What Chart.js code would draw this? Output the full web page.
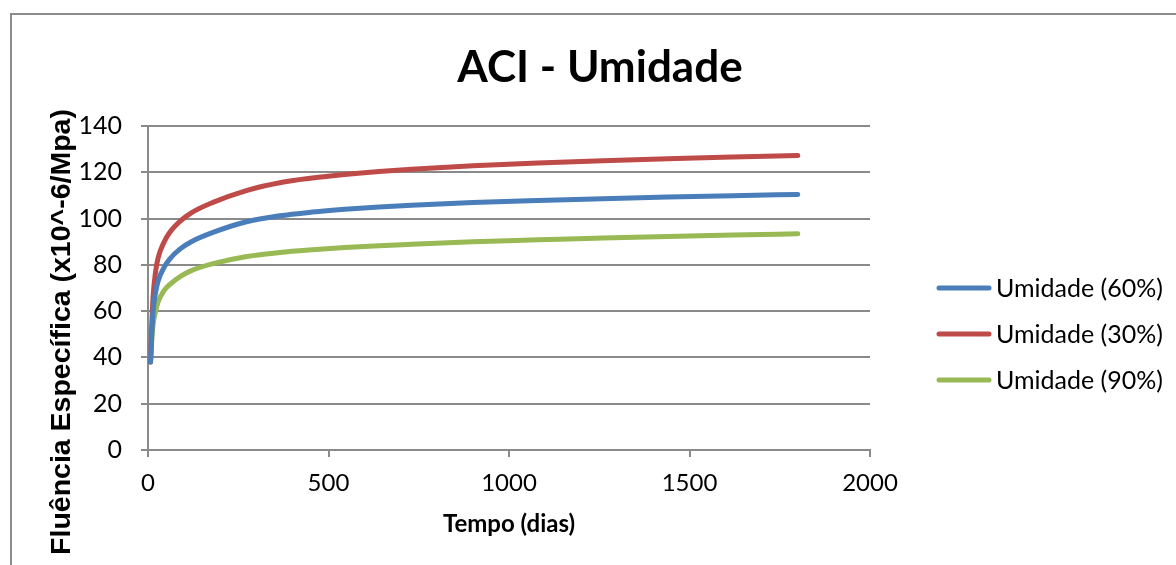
<!DOCTYPE html>
<html>
<head>
<meta charset="utf-8">
<script src="https://cdn.jsdelivr.net/npm/chart.js@4.4.1/dist/chart.umd.min.js"></script>
<style>
  html, body { margin: 0; padding: 0; background: #fff; }
  #chart { display: block; }
</style>
</head>
<body>
<canvas id="chart" width="1176" height="565"></canvas>
<script>
// tempo (dias) e fluência específica (x10^-6/MPa) para cada umidade
const tDias = [7, 10, 14, 21, 28, 45, 60, 90, 120, 180, 270, 365, 455, 545, 640, 730, 900, 1080, 1260, 1440, 1620, 1800];
const umidade60 = [38, 49, 60, 68, 73, 79, 82.5, 87, 90, 94, 98.5, 101.2, 102.8, 104, 105, 105.8, 106.9, 107.8, 108.6, 109.3, 109.9, 110.4];
const umidade30 = [38, 52, 66, 77, 83, 90, 94, 99, 102.5, 107, 112, 115.5, 117.5, 119, 120.3, 121.3, 122.8, 124, 125, 125.9, 126.6, 127.2];
const umidade90 = [38, 46, 54, 60, 64, 69, 71.5, 75, 77.5, 80.5, 83.5, 85.3, 86.5, 87.5, 88.3, 88.9, 90, 90.8, 91.6, 92.3, 92.9, 93.4];

const seriesLabels = ['Umidade (60%)', 'Umidade (30%)', 'Umidade (90%)'];
const seriesColors = ['#4A7EBB', '#BE4B48', '#98B954'];
const xTicks = { min: 0, max: 2000, step: 500 };
const yTicks = { min: 0, max: 140, step: 20 };

const GRID = '#8a8a8a';
const CALIBRI = 'Lato, "Open Sans", sans-serif';

function pontos(ys) {
  return tDias.map((t, i) => ({ x: t, y: ys[i] }));
}

// título, rótulos dos eixos, legenda e moldura
const decor = {
  id: 'decor',
  beforeDraw(chart) {
    const ctx = chart.ctx;
    ctx.save();
    ctx.strokeStyle = '#8c8c8c';
    ctx.lineWidth = 2;
    ctx.beginPath();
    ctx.moveTo(11, chart.height + 2);
    ctx.lineTo(11, 14);
    ctx.lineTo(chart.width + 2, 14);
    ctx.stroke();
    ctx.restore();
  },
  afterDraw(chart) {
    const ctx = chart.ctx;
    const area = chart.chartArea;
    ctx.save();
    ctx.fillStyle = '#000';

    ctx.font = 'bold 44px ' + CALIBRI;
    ctx.textAlign = 'center';
    ctx.textBaseline = 'middle';
    ctx.fillText('ACI - Umidade', 600, 68);

    ctx.font = 'bold 24px ' + CALIBRI;
    ctx.fillText('Tempo (dias)', (area.left + area.right) / 2, 524);

    ctx.save();
    ctx.translate(62, 332);
    ctx.rotate(-Math.PI / 2);
    ctx.font = 'bold 28.5px "Liberation Sans", Arial, sans-serif';
    ctx.fillText('Fluência Específica (x10^-6/Mpa)', 0, 0);
    ctx.restore();

    ctx.font = '25px ' + CALIBRI;
    ctx.textAlign = 'left';
    chart.data.datasets.forEach((ds, i) => {
      const y = 288 + i * 46;
      ctx.strokeStyle = ds.borderColor;
      ctx.lineWidth = 5;
      ctx.lineCap = 'round';
      ctx.beginPath();
      ctx.moveTo(939, y);
      ctx.lineTo(989, y);
      ctx.stroke();
      ctx.fillText(ds.label, 996, y + 1);
    });
    ctx.restore();
  }
};

new Chart(document.getElementById('chart'), {
  type: 'line',
  data: {
    datasets: [umidade60, umidade30, umidade90].map((ys, i) => ({
      label: seriesLabels[i],
      data: pontos(ys),
      borderColor: seriesColors[i],
      backgroundColor: seriesColors[i],
      borderWidth: 5,
      borderCapStyle: 'round',
      borderJoinStyle: 'round',
      pointRadius: 0,
      cubicInterpolationMode: 'monotone',
      fill: false
    }))
  },
  options: {
    responsive: false,
    animation: false,
    devicePixelRatio: 1,
    layout: { padding: { top: 126, right: 306, bottom: 0, left: 0 } },
    plugins: {
      legend: { display: false },
      title: { display: false },
      tooltip: { enabled: false }
    },
    scales: {
      x: {
        type: 'linear',
        min: xTicks.min,
        max: xTicks.max,
        afterFit(scale) { scale.height = 115; },
        ticks: {
          stepSize: xTicks.step,
          color: '#000',
          font: { family: CALIBRI, size: 24 },
          padding: 12,
          maxRotation: 0,
          callback: (v) => String(v)
        },
        grid: { drawOnChartArea: false, color: GRID, lineWidth: 2, tickLength: 7 },
        border: { color: GRID, width: 2 }
      },
      y: {
        min: yTicks.min,
        max: yTicks.max,
        afterFit(scale) { scale.width = 148; },
        ticks: {
          stepSize: yTicks.step,
          color: '#000',
          font: { family: CALIBRI, size: 25 },
          padding: 19
        },
        grid: { color: GRID, lineWidth: 2, tickLength: 7 },
        border: { color: GRID, width: 2 }
      }
    }
  },
  plugins: [decor]
});
</script>
</body>
</html>
